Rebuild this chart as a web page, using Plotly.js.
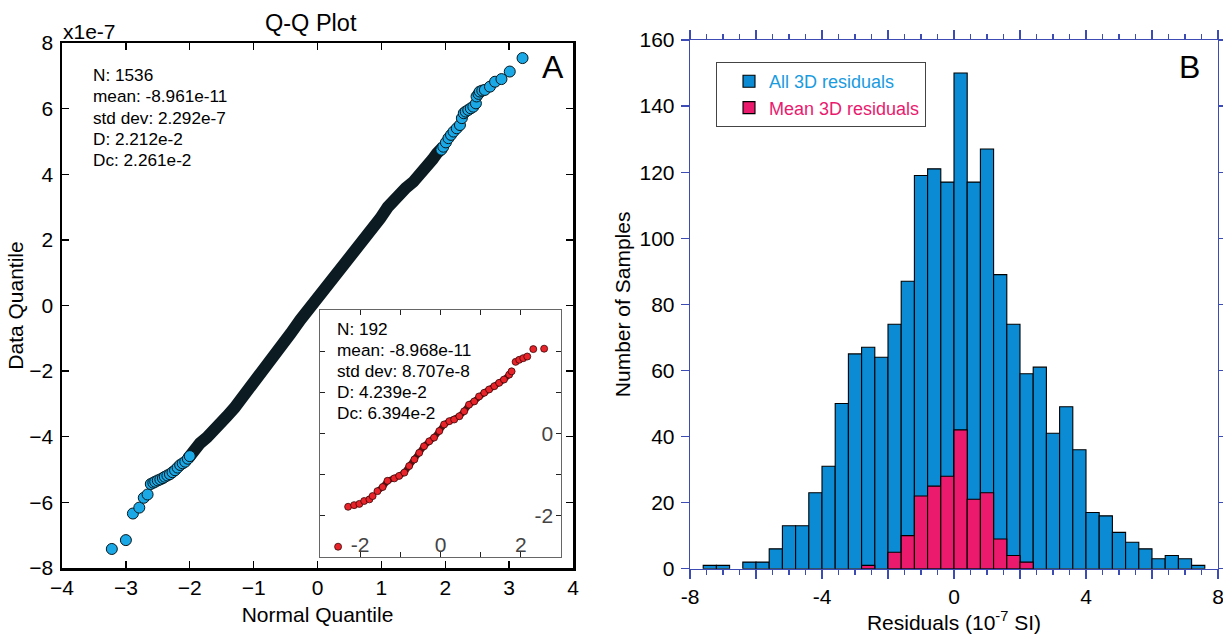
<!DOCTYPE html>
<html>
<head>
<meta charset="utf-8">
<script src="https://cdn.plot.ly/plotly-3.0.1.min.js"></script>
<style>html,body{margin:0;padding:0;background:#fff;}#chart{width:1223px;height:634px;}</style>
</head>
<body>
<div id="chart"></div>
<script>
// ---------- Data ----------
// Panel A: main Q-Q plot (normal quantile vs data quantile, data in units of 1e-7)
const qqNormal = [-3.22,-3.00,-2.89,-2.79,-2.72,-2.66,-2.61,-2.57,-2.54,-2.50,-2.46,-2.42,-2.39,-2.35,-2.31,-2.27,-2.23,-2.19,-2.15,-2.11,-2.07,-2.03,-2.00,-1.94,-1.84,-1.73,-1.63,-1.53,-1.42,-1.30,-1.21,-1.11,-0.95,-0.78,-0.59,-0.42,-0.27,-0.09,0.04,0.20,0.35,0.50,0.67,0.82,0.98,1.10,1.24,1.38,1.50,1.62,1.71,1.80,1.87,1.94,1.97,2.01,2.05,2.09,2.13,2.18,2.23,2.26,2.29,2.32,2.36,2.40,2.44,2.48,2.49,2.52,2.54,2.58,2.62,2.70,2.78,2.88,3.01,3.21];
const qqData = [-7.42,-7.15,-6.34,-6.16,-5.86,-5.76,-5.44,-5.40,-5.37,-5.33,-5.30,-5.26,-5.22,-5.18,-5.14,-5.08,-5.02,-4.94,-4.86,-4.81,-4.76,-4.67,-4.59,-4.41,-4.20,-4.02,-3.85,-3.64,-3.38,-3.12,-2.90,-2.65,-2.20,-1.80,-1.26,-0.85,-0.44,0.00,0.27,0.62,0.98,1.35,1.79,2.20,2.65,3.00,3.32,3.58,3.77,4.00,4.23,4.45,4.64,4.75,4.84,4.97,5.10,5.20,5.30,5.40,5.50,5.71,5.86,5.91,5.96,6.01,6.06,6.16,6.37,6.45,6.52,6.55,6.57,6.67,6.82,6.90,7.13,7.54];
const mainStats = ["N: 1536", "mean: -8.961e-11", "std dev: 2.292e-7", "D: 2.212e-2", "Dc: 2.261e-2"];

// Panel A inset: Q-Q of mean residuals
const insetNormal = [-2.55,-2.30,-2.15,-2.02,-1.90,-1.77,-1.69,-1.57,-1.44,-1.32,-1.15,-1.03,-0.90,-0.78,-0.65,-0.53,-0.41,-0.28,-0.16,-0.03,0.09,0.22,0.34,0.47,0.59,0.71,0.84,0.96,1.09,1.21,1.34,1.46,1.58,1.71,1.77,1.87,1.96,2.06,2.16,2.31,2.58];
const insetData = [-2.75,-1.78,-1.74,-1.71,-1.64,-1.60,-1.52,-1.40,-1.30,-1.15,-1.09,-1.03,-0.95,-0.79,-0.63,-0.47,-0.31,-0.19,-0.10,0.06,0.22,0.30,0.34,0.42,0.54,0.70,0.78,0.90,0.99,1.07,1.15,1.23,1.31,1.43,1.51,1.74,1.79,1.83,1.87,2.05,2.06];
const insetStats = ["N: 192", "mean: -8.968e-11", "std dev: 8.707e-8", "D: 4.239e-2", "Dc: 6.394e-2"];

// Panel B: histogram (bin centres in units of 1e-7 SI)
const binCenters = [-7.4,-7.0,-6.6,-6.2,-5.8,-5.4,-5.0,-4.6,-4.2,-3.8,-3.4,-3.0,-2.6,-2.2,-1.8,-1.4,-1.0,-0.6,-0.2,0.2,0.6,1.0,1.4,1.8,2.2,2.6,3.0,3.4,3.8,4.2,4.6,5.0,5.4,5.8,6.2,6.6,7.0,7.4];
const allCounts  = [1,1,0,2,2,6,13,13,23,31,50,65,67,64,74,87,119,121,117,150,117,127,89,74,59,61,41,49,36,17,16,11,8,6,3,4,3,1];
const meanCounts = [0,0,0,0,0,0,0,0,0,0,0,0,1,0,5,10,22,25,28,42,21,23,9,4,2,0,0,0,0,0,0,0,0,0,0,0,0,0];
const seriesNames = ["All 3D residuals", "Mean 3D residuals"];

// ---------- Layout helpers ----------
const W = 1223, H = 634;
const px = v => v / W;
const py = v => 1 - v / H;
const FONT = "Liberation Sans, Arial, Helvetica, sans-serif";
const AXBLUE = "#3d4cb5";
const BLUE = "#0a8bd3", PINK = "#ec1a6d";
const FS = 21;

// Panel A traces
const coreIdx = [], tailIdx = [];
qqNormal.forEach((x, i) => {
  if (x >= -2.05 && x <= 2.0) coreIdx.push(i);
  if (x < -1.97 || x > 1.9) tailIdx.push(i);
});
const coreTrace = {
  x: coreIdx.map(i => qqNormal[i]), y: coreIdx.map(i => qqData[i]),
  xaxis: "x", yaxis: "y", type: "scatter", mode: "lines",
  line: {color: "#0b1b21", width: 12, shape: "linear"},
  showlegend: false, hoverinfo: "skip"
};
const tailTrace = {
  x: tailIdx.map(i => qqNormal[i]), y: tailIdx.map(i => qqData[i]),
  xaxis: "x", yaxis: "y", type: "scatter", mode: "markers",
  marker: {size: 11, color: "#1aa9e6", line: {color: "#06161c", width: 1}},
  showlegend: false
};
const insetCoreIdx = [];
insetNormal.forEach((x, i) => { if (x >= -1.6 && x <= 1.8) insetCoreIdx.push(i); });
const insetLine = {
  x: insetCoreIdx.map(i => insetNormal[i]), y: insetCoreIdx.map(i => insetData[i]),
  xaxis: "x3", yaxis: "y3", type: "scatter", mode: "lines",
  line: {color: "#5a1212", width: 6}, showlegend: false, hoverinfo: "skip"
};
const insetPts = {
  x: insetNormal, y: insetData, xaxis: "x3", yaxis: "y3",
  type: "scatter", mode: "markers",
  marker: {size: 7, color: "#e8232a", line: {color: "#3a0808", width: 0.8}},
  showlegend: false
};

// Panel B traces
function barTrace(counts, color, name, textColor) {
  const xs = [], ys = [];
  counts.forEach((c, i) => { if (c > 0) { xs.push(binCenters[i]); ys.push(c); } });
  return {
    x: xs, y: ys, xaxis: "x2", yaxis: "y2", type: "bar", width: 0.4,
    marker: {color: color, line: {color: "#000", width: 1.1}},
    name: '<span style="color:' + textColor + '">' + name + '</span>'
  };
}
const allBars = barTrace(allCounts, BLUE, seriesNames[0], "#1a9be0");
const meanBars = barTrace(meanCounts, PINK, seriesNames[1], "#ea1a6f");

// ---------- Annotations ----------
const annotations = [];
annotations.push({text: "Q-Q Plot", x: px(311), y: py(23), xref: "paper", yref: "paper",
  xanchor: "center", yanchor: "middle", showarrow: false, font: {size: 23.5, color: "#000"}});
annotations.push({text: "x1e-7", x: px(61), y: py(31), xref: "paper", yref: "paper",
  xanchor: "left", yanchor: "middle", showarrow: false, font: {size: FS, color: "#000"}});
annotations.push({text: "A", x: px(553), y: py(67), xref: "paper", yref: "paper",
  xanchor: "center", yanchor: "middle", showarrow: false, font: {size: 32, color: "#000"}});
annotations.push({text: "B", x: px(1189), y: py(67), xref: "paper", yref: "paper",
  xanchor: "center", yanchor: "middle", showarrow: false, font: {size: 32, color: "#000"}});
mainStats.forEach((t, i) => annotations.push({text: t, x: px(91), y: py(75 + i * 21.3),
  xref: "paper", yref: "paper", xanchor: "left", yanchor: "middle", showarrow: false,
  font: {size: 17.2, color: "#000"}}));
insetStats.forEach((t, i) => annotations.push({text: t, x: px(335), y: py(329 + i * 21.1),
  xref: "paper", yref: "paper", xanchor: "left", yanchor: "middle", showarrow: false,
  font: {size: 17.2, color: "#000"}}));

const layout = {
  width: W, height: H,
  margin: {l: 0, r: 0, t: 0, b: 0},
  paper_bgcolor: "#fff", plot_bgcolor: "#fff",
  font: {family: FONT, size: FS, color: "#000"},
  showlegend: true,
  barmode: "overlay",
  legend: {x: px(716), y: py(62), xanchor: "left", yanchor: "top",
    bgcolor: "#fff", bordercolor: "#444", borderwidth: 1,
    font: {size: 18}, entrywidth: 210, indentation: 12, tracegroupgap: 0},
  xaxis: {domain: [px(62), px(573)], anchor: "y", range: [-4, 4],
    tickvals: [-4, -3, -2, -1, 0, 1, 2, 3, 4], ticks: "inside", ticklen: 7, tickwidth: 1.3, tickcolor: "#000",
    showline: true, linewidth: 2.5, linecolor: "#000", mirror: "ticks", zeroline: false, showgrid: false,
    tickfont: {size: FS}, ticklabelstandoff: -1, ticklabeloverflow: "allow",
    title: {text: "Normal Quantile", font: {size: FS}, standoff: 10}},
  yaxis: {domain: [py(568), py(43)], anchor: "x", range: [-8, 8],
    tickvals: [-8, -6, -4, -2, 0, 2, 4, 6, 8], ticks: "inside", ticklen: 7, tickwidth: 1.3, tickcolor: "#000",
    showline: true, linewidth: 2.5, linecolor: "#000", mirror: "ticks", zeroline: false, showgrid: false,
    tickfont: {size: FS}, ticklabelstandoff: 2, ticklabeloverflow: "allow",
    title: {text: "Data Quantile", font: {size: FS}, standoff: 0}},
  xaxis3: {domain: [px(320), px(561)], anchor: "y3", range: [-3, 3],
    tickvals: [-2, -1, 0, 1, 2], ticktext: ["-2", "", "0", "", "2"],
    ticks: "inside", ticklen: 5, tickwidth: 1, tickcolor: "#222", ticklabelposition: "inside",
    ticklabelstandoff: -3,
    showline: true, linewidth: 1, linecolor: "#666", mirror: "ticks", zeroline: false, showgrid: false,
    tickfont: {size: FS}},
  yaxis3: {domain: [py(557), py(310)], anchor: "x3", range: [-3, 3], side: "right",
    tickvals: [-2, -1, 0, 1, 2], ticktext: ["-2", "", "0", "", ""],
    ticks: "inside", ticklen: 5, tickwidth: 1, tickcolor: "#222", ticklabelposition: "inside",
    ticklabelstandoff: 4,
    showline: true, linewidth: 1, linecolor: "#666", mirror: "ticks", zeroline: false, showgrid: false,
    tickfont: {size: FS}},
  xaxis2: {domain: [px(690), px(1218)], anchor: "y2", range: [-8, 8],
    tickvals: [-8, -6, -4, -2, 0, 2, 4, 6, 8], ticktext: ["-8", "", "-4", "", "0", "", "4", "", "8"],
    ticks: "outside", ticklen: 9, tickwidth: 1.2, tickcolor: AXBLUE,
    minor: {tick0: -8, dtick: 0.5, ticks: "outside", ticklen: 4.5, tickwidth: 1.2, tickcolor: AXBLUE, showgrid: false},
    showline: true, linewidth: 1.3, linecolor: AXBLUE, mirror: "ticks", zeroline: false, showgrid: false,
    tickfont: {size: FS}, ticklabelstandoff: 0, ticklabeloverflow: "allow",
    title: {text: "Residuals (10<sup>-7</sup> SI)", font: {size: FS}, standoff: 6}},
  yaxis2: {domain: [py(568.7), py(40)], anchor: "x2", range: [0, 160], dtick: 20, tick0: 0,
    ticks: "outside", ticklen: 8, tickwidth: 1.2, tickcolor: AXBLUE,
    showline: true, linewidth: 1.3, linecolor: AXBLUE, mirror: "ticks", zeroline: false, showgrid: false,
    tickfont: {size: FS}, ticklabelstandoff: 2, ticklabeloverflow: "allow",
    title: {text: "Number of Samples", font: {size: FS}, standoff: 3}},
  annotations: annotations
};

Plotly.newPlot("chart", [coreTrace, tailTrace, insetLine, insetPts, allBars, meanBars], layout,
  {displayModeBar: false, staticPlot: true});
</script>
</body>
</html>
